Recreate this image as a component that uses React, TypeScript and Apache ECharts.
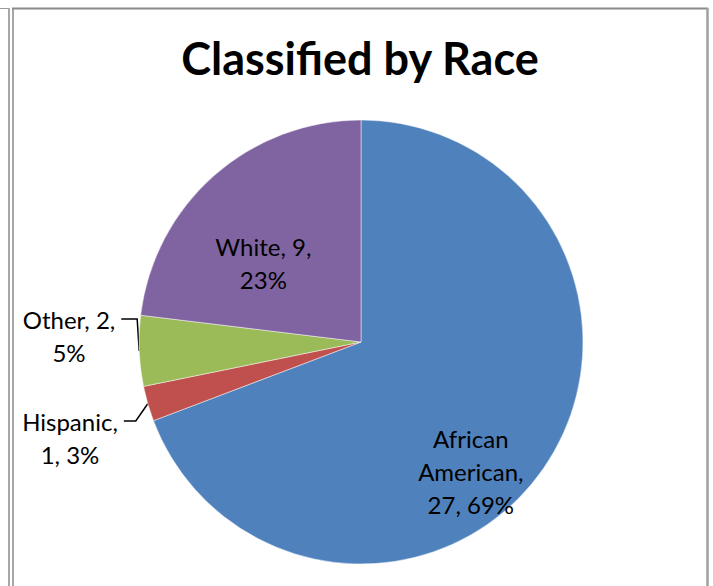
import React, { useEffect, useRef } from "react";
import * as echarts from "echarts";

const categories = ["African American", "Hispanic", "Other", "White"];
const values = [27, 1, 2, 9];
const percents = ["69%", "3%", "5%", "23%"];
const colors = ["#4F81BD", "#C0504D", "#9BBB59", "#8064A2"];
const titleText = "Classified by Race";

const CX = 361;
const CY = 342;
const R = 222;

export default function App() {
  const ref = useRef<HTMLDivElement>(null);
  useEffect(() => {
    if (!ref.current) return;
    const chart = echarts.init(ref.current, null, { renderer: "svg" });
    const total = values.reduce((a, b) => a + b, 0);
    // mid angle (clockwise from top) for each slice, from the data
    const mids: number[] = [];
    let acc = 0;
    values.forEach((v) => {
      mids.push(((acc + v / 2) / total) * 2 * Math.PI);
      acc += v;
    });
    const outsideTargets: Record<number, [number, number]> = {
      1: [70, 438],
      2: [69, 336],
    };
    const bendShift: Record<number, number> = { 1: -12, 2: -2 };
    const labelFont = {
      fontFamily: "Lato, 'Noto Sans', sans-serif",
      fontSize: 24,
      lineHeight: 33,
      color: "#000",
    };
    const data = categories.map((name, i) => {
      const inside = i === 0 || i === 3;
      return {
        name,
        value: values[i],
        itemStyle: { color: colors[i] },
        label: inside
          ? {
              position: "inside",
              offset: i === 0 ? [16, 65] : [-22, 6],
            }
          : { position: "outside" },
        labelLine: { show: !inside },
      };
    });
    chart.setOption({
      animation: false,
      title: {
        text: titleText,
        left: 355,
        textAlign: "center",
        top: 30,
        textStyle: {
          fontFamily: "Lato, 'Noto Sans', sans-serif",
          fontWeight: "bold",
          fontSize: 45,
          color: "#000",
        },
      },
      graphic: [
        { type: "line", shape: { x1: 0, y1: 8.5, x2: 9, y2: 8.5 }, style: { stroke: "#9a9a9a", lineWidth: 1 } },
        { type: "line", shape: { x1: 9, y1: 8, x2: 9, y2: 586 }, style: { stroke: "#a6a6a6", lineWidth: 2 } },
        { type: "line", shape: { x1: 13, y1: 8, x2: 13, y2: 586 }, style: { stroke: "#a6a6a6", lineWidth: 2 } },
        { type: "line", shape: { x1: 12, y1: 8.5, x2: 708, y2: 8.5 }, style: { stroke: "#8a8a8a", lineWidth: 2 } },
        { type: "line", shape: { x1: 707.5, y1: 8, x2: 707.5, y2: 586 }, style: { stroke: "#a0a0a0", lineWidth: 2.5 } },
      ],
      series: [
        {
          type: "pie",
          center: [CX, CY],
          radius: R,
          startAngle: 90,
          clockwise: true,
          data,
          itemStyle: { borderColor: "rgba(255,255,255,0.6)", borderWidth: 0.8 },
          label: {
            show: true,
            ...labelFont,
            align: "center",
            overflow: "none",
            formatter: (p: any) => {
              const i = p.dataIndex;
              const pct = percents[i];
              if (i === 0) return `African\nAmerican,\n${p.value}, ${pct}`;
              if (i === 3) return `${p.name}, ${p.value},\n${pct}`;
              if (i === 2) return `${p.name}, ${p.value},\n${pct}`;
              return `${p.name},\n${p.value}, ${pct}`;
            },
          },
          labelLine: {
            show: true,
            lineStyle: { color: "#000", width: 1.5 },
          },
          labelLayout: (params: any) => {
            const i = params.dataIndex;
            const t = outsideTargets[i];
            if (!t) return {};
            const a = mids[i];
            const ex = CX + R * Math.sin(a);
            const ey = CY - R * Math.cos(a);
            const w = params.labelRect.width;
            const h = params.labelRect.height;
            const firstY = t[1] - h / 2 + 16;
            const rightX = t[0] + w / 2 + 6;
            return {
              x: t[0],
              y: t[1],
              align: "center",
              verticalAlign: "middle",
              labelLinePoints: [
                [ex, ey],
                [ex + bendShift[i], firstY],
                [rightX, firstY],
              ],
            };
          },
        },
      ],
    });
    return () => chart.dispose();
  }, []);
  return (
    <div
      ref={ref}
      style={{ position: "fixed", left: 0, top: 0, width: 713, height: 586, background: "#fff" }}
    />
  );
}
